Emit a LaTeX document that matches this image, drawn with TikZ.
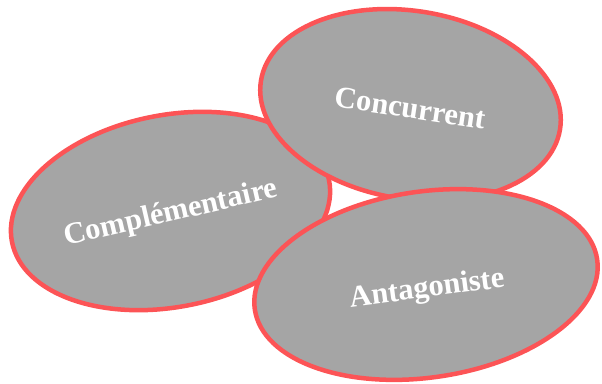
\documentclass[tikz,border=0pt]{standalone}
\usepackage{fontspec}
\setmainfont{Liberation Serif}
\usetikzlibrary{shapes.geometric}
\definecolor{rimred}{RGB}{252,84,86}
\definecolor{blobgray}{RGB}{165,165,165}
\begin{document}
\begin{tikzpicture}[x=1pt,y=1pt,
  blob/.style={ellipse, draw=rimred, fill=blobgray, line width=4.5pt, inner sep=0pt},
  blobtext/.style={text=white, font=\fontsize{30.5}{34}\selectfont\bfseries, inner sep=0pt}]
\useasboundingbox (0,0) rectangle (602,383);
\node[blob, minimum width=323pt, minimum height=192pt, rotate=11] (comp) at (170.5,172) {};
\node[blobtext, rotate=13] (compt) at (171,169) {Complémentaire};
\node[blob, minimum width=303pt, minimum height=188pt, rotate=-9.3] (conc) at (410.5,278) {};
\node[blobtext, rotate=-8.5] (conct) at (410,275) {Concurrent};
\node[blob, minimum width=346pt, minimum height=186pt, rotate=8.3] (anta) at (426,98.5) {};
\node[blobtext, rotate=7.5] (antat) at (427,93) {Antagoniste};
\end{tikzpicture}
\end{document}
